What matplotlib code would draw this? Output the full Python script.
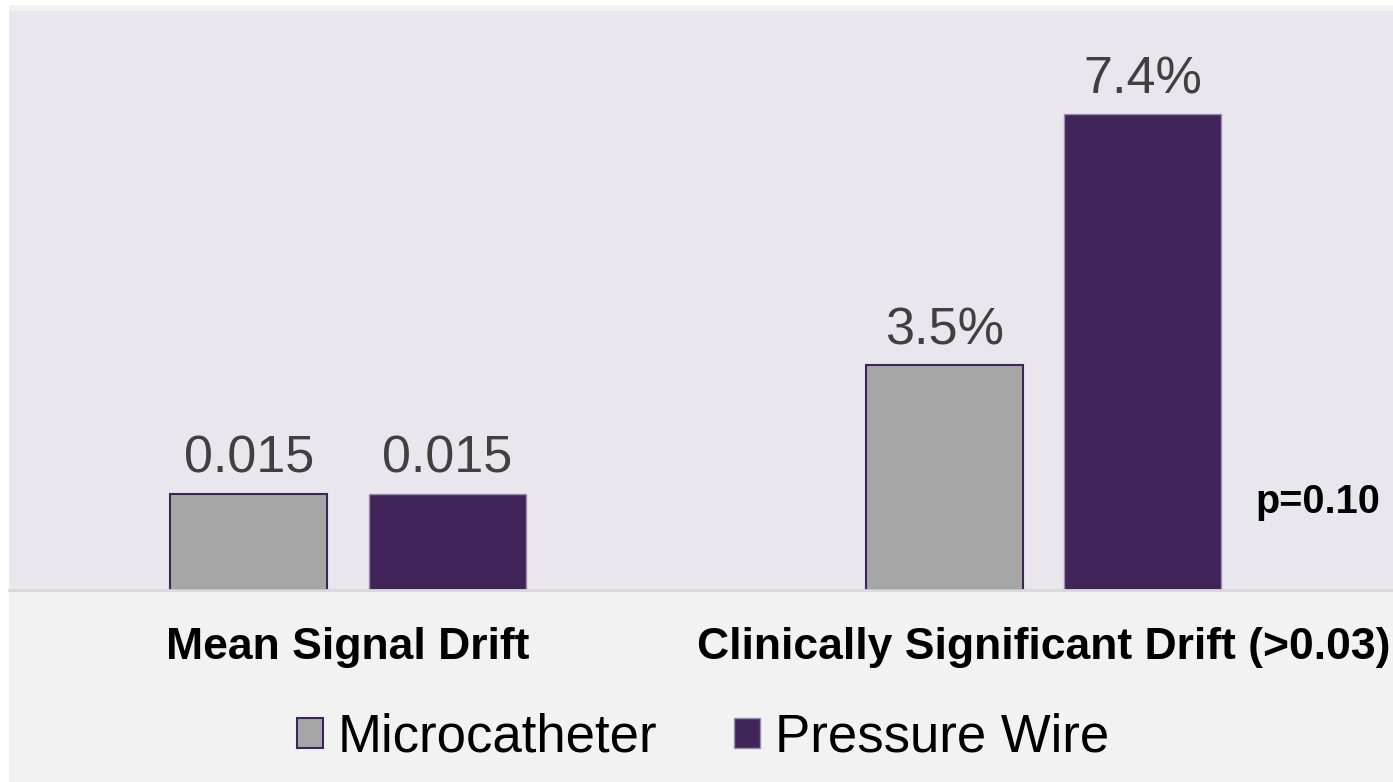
import matplotlib.pyplot as plt
import numpy as np
from matplotlib.patches import Rectangle

categories = ["Mean Signal Drift", "Clinically Significant Drift (>0.03)"]
series = ["Microcatheter", "Pressure Wire"]
micro_vals = [1.5, 3.5]
wire_vals = [1.5, 7.4]
micro_labels = ["0.015", "3.5%"]
wire_labels = ["0.015", "7.4%"]
p_text = "p=0.10"

plt.rcParams['font.family'] = ['Liberation Sans', 'DejaVu Sans']

W, H = 1393, 782
fig = plt.figure(figsize=(W / 100, H / 100), dpi=100)
fig.patch.set_facecolor('white')
# light grey backdrop behind everything
fig.patches.append(Rectangle((9 / W, 0), 1 - 9 / W, 1 - 5 / H, transform=fig.transFigure,
                             facecolor='#F2F2F2', edgecolor='none', zorder=-10))

ax = fig.add_axes([9 / W, (H - 590) / H, 1 - 9 / W, 579 / H])
ax.set_facecolor('#E9E6EE')

x = np.arange(len(categories))
bw = 0.2257
off = 0.2854 / 2
b1 = ax.bar(x - off, micro_vals, bw, color='#A6A6A6', edgecolor='#3F2459', linewidth=1.5,
            label=series[0])
b2 = ax.bar(x + off, wire_vals, bw, color='#40245A', edgecolor='#9A8DAD', linewidth=1.0,
            label=series[1])

for bars, labs in [(b1, micro_labels), (b2, wire_labels)]:
    for rect, lab in zip(bars, labs):
        ax.annotate(lab, (rect.get_x() + rect.get_width() / 2, rect.get_height()),
                    xytext=(0, 15), textcoords='offset points', ha='center', va='baseline',
                    fontsize=37.5, color='#404040')

ax.text(1.3947, 1.2, p_text, ha='center', va='baseline', fontsize=28.5, fontweight='bold',
        color='black')

ax.set_xlim(-0.4874, 1.5025)
ax.set_ylim(0, 9)
ax.set_yticks([])
ax.set_xticks(x)
ax.set_xticklabels(categories, fontsize=32, fontweight='bold')
ax.tick_params(axis='x', length=0, pad=27)
for s in ['top', 'left', 'right']:
    ax.spines[s].set_visible(False)
ax.spines['bottom'].set_color('#D9D9D9')
ax.spines['bottom'].set_linewidth(2)

fig.legend(handles=[b1, b2], loc='center', bbox_to_anchor=(703 / W, 1 - 738 / H),
           ncol=2, frameon=False, fontsize=38, handlelength=0.5, handleheight=0.5,
           handletextpad=0.28, columnspacing=1.45)

fig.savefig('out.png', dpi=100, facecolor=fig.get_facecolor())
